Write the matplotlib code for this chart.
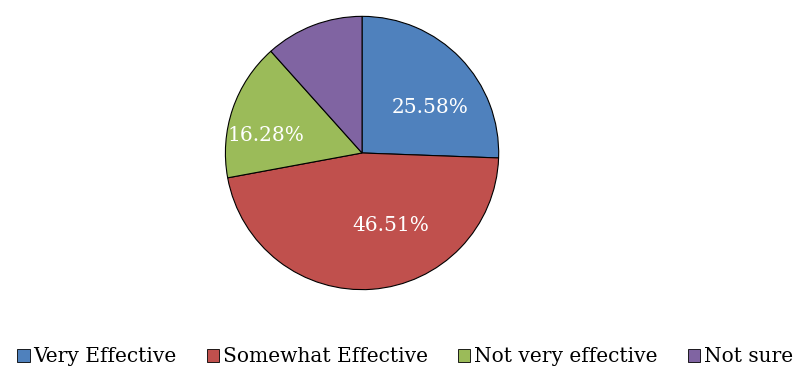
import matplotlib
matplotlib.use("Agg")
import matplotlib.pyplot as plt
from matplotlib.patches import Patch

# ── Data ──────────────────────────────────────────────────────────────────────
categories = ["Very Effective", "Somewhat Effective", "Not very effective", "Not sure"]
values     = [25.58, 46.51, 16.28, 11.63]
colors     = ["#4F81BD", "#C0504D", "#9BBB59", "#8064A2"]
show_label = [True, True, True, False]

plt.rcParams['font.family'] = ['DejaVu Serif']

fig = plt.figure(figsize=(7.95, 3.69), dpi=100)
ax = fig.add_axes([0.2818, 0.2114, 0.3472, 0.748])

wedges, texts, autotexts = ax.pie(
    values, colors=colors, startangle=90, counterclock=False,
    autopct=lambda p: f"{p:.2f}%", pctdistance=0.62,
    wedgeprops=dict(edgecolor="black", linewidth=0.8),
    textprops=dict(color="white", fontsize=14.5),
)
# label placement (Excel "best fit"), in pie-radius units
label_pos = [(0.50, 0.33), (0.21, -0.53), (-0.70, 0.13), (0, 0)]
for t, show, pos in zip(autotexts, show_label, label_pos):
    if not show:
        t.set_visible(False)
    else:
        t.set_position(pos)
        t.set_ha("center")
        t.set_va("center")

ax.set_xlim(-1.01, 1.01)
ax.set_ylim(-1.01, 1.01)
ax.set_aspect("equal")

handles = [Patch(facecolor=c, edgecolor="black", linewidth=0.6) for c in colors]
fig.legend(handles, categories, loc="center", bbox_to_anchor=(0.51, 0.033),
           ncol=4, frameon=False, fontsize=14.5, handlelength=0.6,
           handleheight=0.6, handletextpad=0.2, columnspacing=1.5)

fig.savefig("out.png", dpi=100)
